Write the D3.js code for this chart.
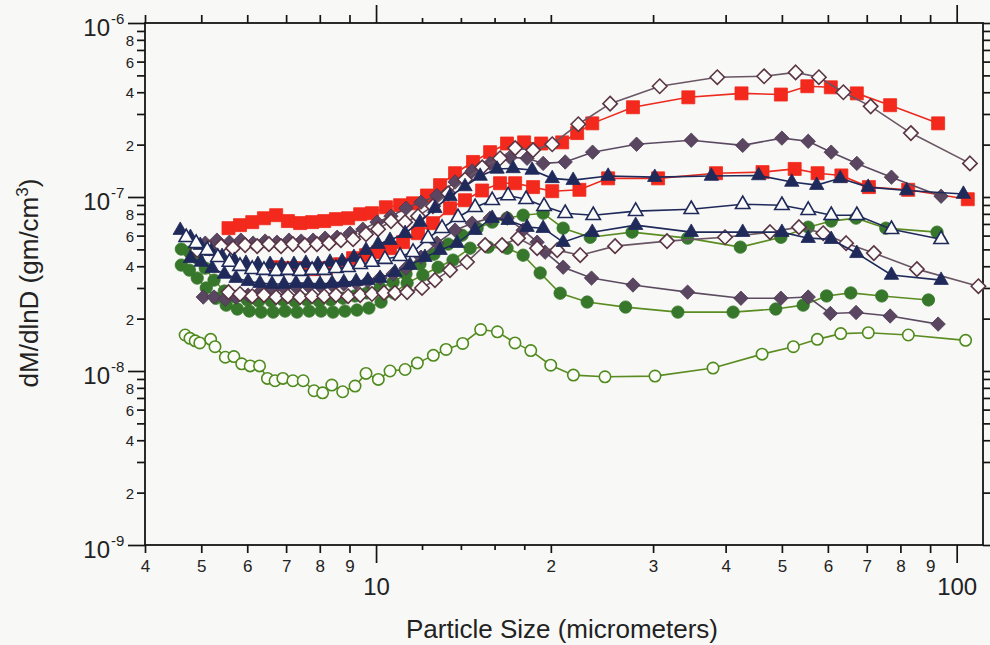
<!DOCTYPE html>
<html>
<head>
<meta charset="utf-8">
<script src="https://cdn.jsdelivr.net/npm/d3@7"></script>
<style>
  html, body { margin: 0; padding: 0; background: #f8f8f6; }
  svg { display: block; font-family: "Liberation Sans", Arial, Helvetica, sans-serif; }
</style>
</head>
<body>
<svg id="chart" width="990" height="645"></svg>
<script>
// Particle size (micrometers) and dM/dlnD (gm/cm^3) for each sample run.

const greenUpperSize = [4.62,4.77,4.92,5.08,5.26,5.48,5.72,6.00,6.28,6.60,6.91,7.25,7.60,7.98,8.36,8.77,9.20,9.65,10.16,10.70,11.26,11.90,12.58,13.31,14.06,14.93,15.85,16.81,17.92,19.40,21.0,23.38,27.6,34.4,42.4,49.8,55.5,60.8,67.1,75.5,92.5];
const greenUpperValue = [5.02e-8,4.82e-8,4.45e-8,3.90e-8,3.33e-8,2.88e-8,2.66e-8,2.56e-8,2.52e-8,2.52e-8,2.56e-8,2.52e-8,2.56e-8,2.52e-8,2.56e-8,2.62e-8,2.70e-8,2.81e-8,3.00e-8,3.24e-8,3.61e-8,4.11e-8,4.69e-8,5.36e-8,6.03e-8,6.62e-8,7.17e-8,7.56e-8,7.86e-8,8.07e-8,6.62e-8,5.87e-8,6.28e-8,5.80e-8,5.15e-8,5.87e-8,6.71e-8,7.27e-8,7.56e-8,6.62e-8,6.28e-8];

const greenLowerSize = [4.62,4.77,4.92,5.10,5.30,5.52,5.77,6.05,6.34,6.65,6.97,7.31,7.67,8.04,8.43,8.84,9.27,9.72,10.20,10.74,11.31,12.04,12.79,13.57,14.52,15.60,16.81,17.92,19.17,20.75,23.1,26.9,33.1,41.2,48.8,54.4,59.7,65.7,74.3,89.4];
const greenLowerValue = [4.06e-8,3.80e-8,3.42e-8,3.00e-8,2.62e-8,2.39e-8,2.27e-8,2.21e-8,2.18e-8,2.18e-8,2.21e-8,2.18e-8,2.21e-8,2.21e-8,2.18e-8,2.21e-8,2.24e-8,2.30e-8,2.49e-8,2.80e-8,3.20e-8,3.56e-8,3.95e-8,4.34e-8,5.08e-8,5.15e-8,5.08e-8,4.63e-8,3.66e-8,2.80e-8,2.49e-8,2.33e-8,2.18e-8,2.18e-8,2.27e-8,2.39e-8,2.70e-8,2.81e-8,2.70e-8,2.56e-8];

const openCircleSize = [4.69,4.78,4.88,4.97,5.19,5.28,5.50,5.69,5.87,6.07,6.30,6.50,6.70,6.91,7.19,7.49,7.82,8.09,8.39,8.76,9.20,9.61,10.09,10.57,11.22,11.78,12.55,13.20,14.10,15.14,16.18,17.35,18.47,19.99,21.87,24.79,30.23,38.05,46.22,52.33,57.54,63.14,70.43,82.55,103.6];
const openCircleValue = [1.61e-8,1.54e-8,1.49e-8,1.45e-8,1.52e-8,1.38e-8,1.20e-8,1.21e-8,1.10e-8,1.07e-8,1.07e-8,9.07e-9,8.79e-9,9.07e-9,8.79e-9,8.79e-9,7.70e-9,7.49e-9,8.30e-9,7.60e-9,8.19e-9,9.69e-9,8.95e-9,1.00e-8,1.02e-8,1.11e-8,1.23e-8,1.33e-8,1.44e-8,1.73e-8,1.68e-8,1.45e-8,1.31e-8,1.08e-8,9.47e-9,9.26e-9,9.35e-9,1.04e-8,1.25e-8,1.38e-8,1.52e-8,1.64e-8,1.66e-8,1.61e-8,1.50e-8];

const redUpperSize = [5.57,5.83,6.12,6.41,6.73,7.05,7.40,7.76,8.14,8.53,8.95,9.39,9.84,10.40,11.00,11.58,12.24,12.89,13.68,14.69,15.72,16.81,17.99,19.25,20.92,22.2,23.57,27.7,34.5,42.6,49.8,55.3,60.7,67.3,76.8,92.9];
const redUpperValue = [6.62e-8,6.89e-8,7.17e-8,7.55e-8,7.86e-8,7.27e-8,7.08e-8,7.17e-8,7.27e-8,7.46e-8,7.55e-8,7.96e-8,8.07e-8,8.73e-8,8.97e-8,9.20e-8,1.02e-7,1.17e-7,1.37e-7,1.59e-7,1.81e-7,2.03e-7,2.06e-7,2.03e-7,2.06e-7,2.33e-7,2.65e-7,3.28e-7,3.74e-7,3.94e-7,3.88e-7,4.33e-7,4.27e-7,3.94e-7,3.37e-7,2.65e-7];

const redLowerSize = [6.75,7.11,7.46,7.82,8.20,8.67,9.13,9.61,10.08,10.57,11.13,11.81,12.53,13.41,14.23,15.23,16.35,17.36,18.64,20.11,22.4,25.1,30.6,38.5,46.3,52.6,57.6,63.3,70.6,82.5,104.5];
const redLowerValue = [3.95e-8,3.90e-8,3.90e-8,3.85e-8,3.90e-8,4.11e-8,4.45e-8,4.63e-8,4.82e-8,5.08e-8,5.50e-8,6.19e-8,7.07e-8,8.62e-8,9.58e-8,1.09e-7,1.20e-7,1.20e-7,1.14e-7,1.08e-7,1.10e-7,1.28e-7,1.28e-7,1.37e-7,1.39e-7,1.45e-7,1.37e-7,1.33e-7,1.14e-7,1.10e-7,9.71e-8];

const diamondLowerSize = [5.04,5.26,5.50,5.74,6.02,6.31,6.62,6.94,7.28,7.64,8.01,8.40,8.80,9.24,9.68,10.16,10.70,11.26,11.95,12.73,13.68,14.64,15.72,16.81,17.92,18.94,19.55,21.0,23.5,27.7,34.4,42.5,49.8,55.5,60.6,67.1,76.8,92.9];
const diamondLowerValue = [2.66e-8,2.66e-8,2.59e-8,2.66e-8,2.73e-8,2.84e-8,2.92e-8,3.00e-8,3.04e-8,3.08e-8,3.08e-8,3.12e-8,3.16e-8,3.20e-8,3.28e-8,3.42e-8,3.61e-8,3.90e-8,4.51e-8,5.43e-8,6.45e-8,7.07e-8,7.56e-8,7.56e-8,6.45e-8,5.50e-8,4.82e-8,3.95e-8,3.42e-8,3.12e-8,2.84e-8,2.62e-8,2.62e-8,2.66e-8,2.14e-8,2.17e-8,2.07e-8,1.86e-8];

const diamondUpperSize = [5.08,5.32,5.59,5.85,6.14,6.44,6.75,7.08,7.43,7.79,8.17,8.57,9.02,9.49,10.04,10.61,11.26,11.95,12.73,13.68,14.64,15.72,17.01,18.20,19.40,21.17,23.6,28.1,34.9,42.8,50.0,55.5,60.8,67.3,77.2,94.0];
const diamondUpperValue = [5.43e-8,5.65e-8,5.50e-8,5.65e-8,5.43e-8,5.58e-8,5.50e-8,5.65e-8,5.58e-8,5.65e-8,5.80e-8,5.87e-8,6.19e-8,6.53e-8,7.17e-8,7.76e-8,8.62e-8,9.33e-8,1.02e-7,1.22e-7,1.41e-7,1.56e-7,1.69e-7,1.67e-7,1.56e-7,1.59e-7,1.81e-7,2.01e-7,2.12e-7,1.98e-7,2.18e-7,2.09e-7,1.81e-7,1.56e-7,1.30e-7,1.01e-7];

const openDiamondLowerSize = [5.57,5.83,6.12,6.41,6.73,7.05,7.40,7.76,8.14,8.53,8.95,9.39,9.84,10.32,10.78,11.31,12.0,12.63,13.41,14.34,15.41,16.48,17.56,18.94,20.51,22.47,25.8,31.7,39.9,47.7,53.5,58.9,64.5,72.0,85.4,109];
const openDiamondLowerValue = [2.84e-8,2.77e-8,2.69e-8,2.73e-8,2.66e-8,2.69e-8,2.66e-8,2.69e-8,2.69e-8,2.73e-8,2.69e-8,2.73e-8,2.77e-8,2.81e-8,2.81e-8,2.84e-8,3.00e-8,3.33e-8,3.80e-8,4.23e-8,5.29e-8,5.29e-8,5.80e-8,5.08e-8,4.95e-8,4.63e-8,5.22e-8,5.58e-8,5.87e-8,6.28e-8,6.71e-8,6.19e-8,5.43e-8,4.76e-8,3.85e-8,3.07e-8];

const openDiamondUpperSize = [4.92,5.16,5.41,5.67,5.95,6.24,6.54,6.86,7.19,7.54,7.91,8.30,8.70,9.13,9.61,10.08,10.61,11.22,11.81,12.53,13.31,14.23,15.23,16.35,17.36,18.64,20.11,22.3,25.3,30.8,38.7,46.6,52.8,57.9,63.8,71.1,83.4,105.4];
const openDiamondUpperValue = [4.95e-8,5.08e-8,5.22e-8,5.08e-8,5.29e-8,5.22e-8,5.36e-8,5.22e-8,5.36e-8,5.29e-8,5.36e-8,5.43e-8,5.65e-8,5.72e-8,6.11e-8,6.53e-8,7.27e-8,7.17e-8,7.76e-8,8.86e-8,1.05e-7,1.26e-7,1.48e-7,1.67e-7,1.91e-7,1.86e-7,2.01e-7,2.62e-7,3.44e-7,4.33e-7,4.88e-7,4.94e-7,5.20e-7,4.88e-7,4.00e-7,3.32e-7,2.33e-7,1.56e-7];

const triangleLowerSize = [4.79,5.00,5.22,5.48,5.74,6.02,6.31,6.62,6.94,7.28,7.64,8.01,8.40,8.80,9.24,9.68,10.16,10.78,11.44,12.14,12.89,13.79,14.81,15.85,16.88,18.20,19.40,21.0,23.57,28.0,34.9,42.8,50.0,55.5,60.8,67.3,77.2,94.0];
const triangleLowerValue = [4.45e-8,4.23e-8,3.90e-8,3.61e-8,3.42e-8,3.28e-8,3.20e-8,3.16e-8,3.16e-8,3.20e-8,3.20e-8,3.16e-8,3.20e-8,3.24e-8,3.28e-8,3.33e-8,3.42e-8,3.70e-8,4.06e-8,4.51e-8,4.95e-8,5.43e-8,6.45e-8,7.56e-8,7.36e-8,6.71e-8,6.62e-8,5.50e-8,6.28e-8,6.89e-8,6.28e-8,6.28e-8,6.28e-8,5.80e-8,5.72e-8,4.75e-8,3.56e-8,3.33e-8];

const triangleUpperSize = [4.60,4.79,4.98,5.20,5.43,5.70,5.97,6.26,6.57,6.88,7.22,7.57,7.94,8.33,8.74,9.16,9.61,10.08,10.57,11.22,11.90,12.63,13.41,14.23,15.11,16.16,17.22,18.57,20.11,21.85,25.1,30.2,37.8,45.6,52.0,57.4,63.0,70.4,82.0,102.7];
const triangleUpperValue = [6.45e-8,5.87e-8,5.29e-8,4.88e-8,4.57e-8,4.34e-8,4.17e-8,4.11e-8,4.11e-8,4.06e-8,4.11e-8,4.17e-8,4.11e-8,4.23e-8,4.28e-8,4.51e-8,4.95e-8,5.36e-8,5.65e-8,6.19e-8,7.17e-8,8.62e-8,1.01e-7,1.15e-7,1.32e-7,1.45e-7,1.46e-7,1.43e-7,1.28e-7,1.25e-7,1.32e-7,1.30e-7,1.32e-7,1.33e-7,1.22e-7,1.17e-7,1.28e-7,1.14e-7,1.09e-7,1.04e-7];

const openTriangleSize = [4.71,4.90,5.12,5.34,5.59,5.83,6.12,6.41,6.73,7.05,7.40,7.76,8.14,8.53,8.95,9.39,9.84,10.36,11.00,11.58,12.29,12.99,13.84,14.81,15.85,16.88,18.13,19.47,21.17,23.66,28.0,34.9,42.8,50.0,55.5,60.8,67.3,77.2,94.0];
const openTriangleValue = [5.87e-8,5.43e-8,4.95e-8,4.51e-8,4.23e-8,4.01e-8,3.85e-8,3.80e-8,3.75e-8,3.80e-8,3.75e-8,3.80e-8,3.80e-8,3.90e-8,3.95e-8,4.11e-8,4.23e-8,4.40e-8,4.57e-8,4.82e-8,5.80e-8,6.62e-8,7.65e-8,8.73e-8,9.58e-8,1.02e-7,9.71e-8,8.86e-8,8.07e-8,7.86e-8,8.29e-8,8.51e-8,9.09e-8,8.97e-8,8.40e-8,7.86e-8,7.86e-8,6.53e-8,5.72e-8];

// Axis ticks
const xTickValues = [4,5,6,7,8,9,10,12,14,16,18,20,30,40,50,60,70,80,90,100];
const xDecades = [10,100];
const xUnlabelled = [12,14,16,18];
const yTickValues = [];
for (let e = -9; e <= -7; e++) for (let m = 1; m <= 9; m++) yTickValues.push(+(m + "e" + e));
yTickValues.push(1e-6);

const xTitle = "Particle Size (micrometers)";
const yTitle = "dM/dlnD (gm/cm";

// Layout
const W = 990, H = 645;
const plot = { left: 145, right: 983, top: 23, bottom: 545 };
const INK = "#141414";

const svg = d3.select("#chart");
svg.append("rect").attr("width", W).attr("height", H).attr("fill", "#f8f8f6");

const x = d3.scaleLog().domain([4, 111]).range([plot.left, plot.right]);
const y = d3.scaleLog().domain([1e-9, 1e-6]).range([plot.bottom, plot.top]);

const mantissa = v => Math.round(v / Math.pow(10, Math.floor(Math.log10(v) + 1e-9)));
const xTickLen = d => xDecades.includes(d) ? 18 : (xUnlabelled.includes(d) ? 5 : 8);
const xLabel = d => xDecades.includes(d) ? String(d) : (xUnlabelled.includes(d) ? "" : String(mantissa(d)));
const yTickLen = d => mantissa(d) === 1 ? 17 : 8;

function styleAxis(g) {
  g.attr("font-family", null).attr("font-size", null).attr("fill", INK);
  g.select(".domain").remove();
  g.selectAll(".tick line").attr("stroke", INK).attr("stroke-width", 1.7);
}

// Bottom axis
const gxb = svg.append("g")
  .attr("transform", `translate(0,${plot.bottom})`)
  .call(d3.axisBottom(x).tickValues(xTickValues).tickFormat(xLabel).tickSizeOuter(0));
styleAxis(gxb);
gxb.selectAll(".tick line").attr("y2", d => xTickLen(d));
gxb.selectAll(".tick text")
  .attr("dy", null)
  .attr("y", d => xDecades.includes(d) ? 50 : 27)
  .attr("font-size", d => xDecades.includes(d) ? 24 : 17)
  .attr("fill", "#222");

// Top axis (ticks only)
const gxt = svg.append("g")
  .attr("transform", `translate(0,${plot.top})`)
  .call(d3.axisTop(x).tickValues(xTickValues).tickFormat("").tickSizeOuter(0));
styleAxis(gxt);
gxt.selectAll(".tick line").attr("y2", d => -xTickLen(d));

// Left axis
const gyl = svg.append("g")
  .attr("transform", `translate(${plot.left},0)`)
  .call(d3.axisLeft(y).tickValues(yTickValues).tickFormat("").tickSizeOuter(0));
styleAxis(gyl);
gyl.selectAll(".tick line").attr("x2", d => -yTickLen(d));
gyl.selectAll(".tick").each(function (d) {
  const g = d3.select(this);
  const m = mantissa(d);
  if (m === 1) {
    const e = Math.round(Math.log10(d));
    g.append("text").attr("x", -35).attr("y", 12).attr("text-anchor", "end")
      .attr("font-size", 24).attr("fill", "#222").text("10");
    g.append("text").attr("x", -34).attr("y", 0).attr("text-anchor", "start")
      .attr("font-size", 15).attr("fill", "#222").text(String(e));
  } else if (m % 2 === 0) {
    g.append("text").attr("x", -11).attr("y", 5.5).attr("text-anchor", "end")
      .attr("font-size", 15).attr("fill", "#222").text(String(m));
  }
});

// Right axis (ticks only)
const gyr = svg.append("g")
  .attr("transform", `translate(${plot.right},0)`)
  .call(d3.axisRight(y).tickValues(yTickValues).tickFormat("").tickSizeOuter(0));
styleAxis(gyr);
gyr.selectAll(".tick line").attr("x2", d => yTickLen(d));

// Frame
svg.append("rect")
  .attr("x", plot.left).attr("y", plot.top)
  .attr("width", plot.right - plot.left).attr("height", plot.bottom - plot.top)
  .attr("fill", "none").attr("stroke", INK).attr("stroke-width", 1.8);

// Axis titles
svg.append("text")
  .attr("x", 562).attr("y", 638).attr("text-anchor", "middle")
  .attr("font-size", 26).attr("fill", "#222").text(xTitle);

const yt = svg.append("text")
  .attr("transform", "translate(38,283) rotate(-90)")
  .attr("text-anchor", "middle").attr("font-size", 26).attr("fill", "#222");
yt.append("tspan").text(yTitle);
yt.append("tspan").attr("dy", -10).attr("font-size", 17).text("3");
yt.append("tspan").attr("dy", 10).text(")");

// Marker shapes
const shapes = {
  square: "M-6.5,-6.5H6.5V6.5H-6.5Z",
  diamond: "M0,-7.2L7.2,0L0,7.2L-7.2,0Z",
  triangle: "M0,-8.2L7.2,4.3L-7.2,4.3Z"
};

const series = [
  { size: greenUpperSize, value: greenUpperValue, shape: "circle", fill: "#37772b", stroke: "#37772b", line: "#5b8c22" },
  { size: greenLowerSize, value: greenLowerValue, shape: "circle", fill: "#37772b", stroke: "#37772b", line: "#5b8c22" },
  { size: openCircleSize, value: openCircleValue, shape: "circle", fill: "#fbfbf7", stroke: "#4f8a1e", line: "#5b8c22", open: true },
  { size: redUpperSize, value: redUpperValue, shape: "square", fill: "#f2291c", stroke: "#f2291c", line: "#ec2a1e" },
  { size: redLowerSize, value: redLowerValue, shape: "square", fill: "#f2291c", stroke: "#f2291c", line: "#ec2a1e" },
  { size: diamondLowerSize, value: diamondLowerValue, shape: "diamond", fill: "#5a4660", stroke: "#4a3650", line: "#5c4a62" },
  { size: diamondUpperSize, value: diamondUpperValue, shape: "diamond", fill: "#5a4660", stroke: "#4a3650", line: "#5c4a62" },
  { size: openDiamondLowerSize, value: openDiamondLowerValue, shape: "diamond", fill: "#fbfbf9", stroke: "#5a3444", line: "#6a5664", open: true },
  { size: openDiamondUpperSize, value: openDiamondUpperValue, shape: "diamond", fill: "#fbfbf9", stroke: "#5a3444", line: "#6a5664", open: true },
  { size: triangleLowerSize, value: triangleLowerValue, shape: "triangle", fill: "#1f2a5a", stroke: "#1f2a5a", line: "#1f2a5a" },
  { size: triangleUpperSize, value: triangleUpperValue, shape: "triangle", fill: "#1f2a5a", stroke: "#1f2a5a", line: "#1f2a5a" },
  { size: openTriangleSize, value: openTriangleValue, shape: "triangle", fill: "#fbfbf9", stroke: "#1f2a5a", line: "#1f2a5a", open: true }
];

const line = d3.line().x(d => x(d[0])).y(d => y(d[1]));
const layer = svg.append("g");

series.forEach(s => {
  const pts = s.size.map((d, i) => [d, s.value[i]]);
  const g = layer.append("g");
  g.append("path").datum(pts).attr("d", line)
    .attr("fill", "none").attr("stroke", s.line).attr("stroke-width", 1.6);
  const sw = s.open ? 1.6 : 0.8;
  if (s.shape === "circle") {
    g.selectAll("circle").data(pts).join("circle")
      .attr("cx", d => x(d[0])).attr("cy", d => y(d[1]))
      .attr("r", s.open ? 5.7 : 6.2)
      .attr("fill", s.fill).attr("stroke", s.stroke).attr("stroke-width", sw);
  } else {
    g.selectAll("path.m").data(pts).join("path").attr("class", "m")
      .attr("d", shapes[s.shape])
      .attr("transform", d => `translate(${x(d[0])},${y(d[1])})`)
      .attr("fill", s.fill).attr("stroke", s.stroke).attr("stroke-width", sw)
      .attr("stroke-linejoin", "miter");
  }
});
</script>
</body>
</html>
